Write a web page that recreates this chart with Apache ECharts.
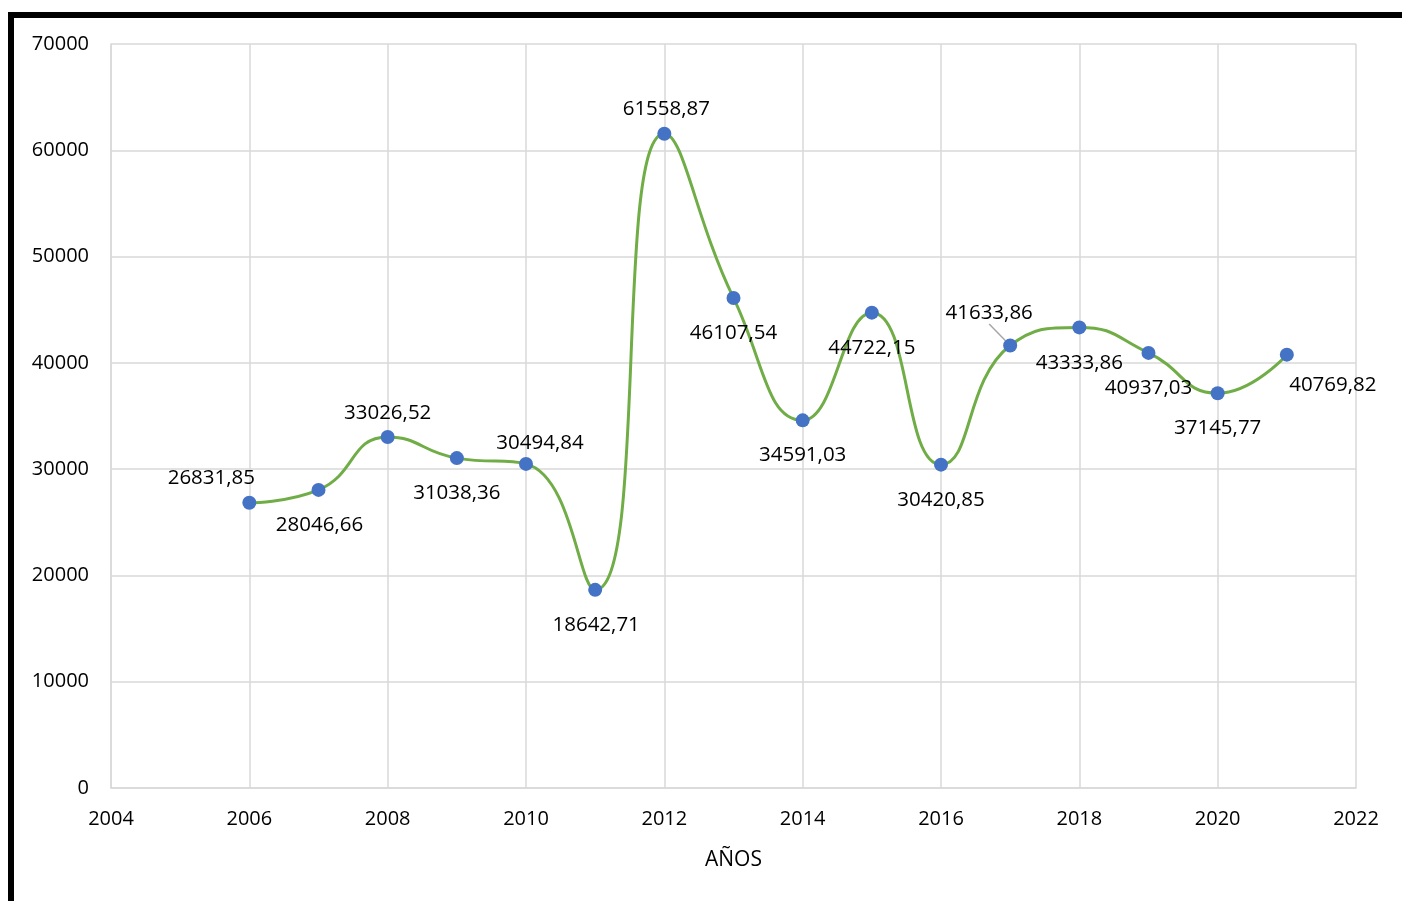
<!DOCTYPE html>
<html>
<head>
<meta charset="utf-8">
<script src="https://cdn.jsdelivr.net/npm/echarts@6/dist/echarts.min.js"></script>
<style>
html,body{margin:0;padding:0;background:#fff;}
#chart{width:1402px;height:901px;}
</style>
</head>
<body>
<div id="chart"></div>
<script>
const years = [2006,2007,2008,2009,2010,2011,2012,2013,2014,2015,2016,2017,2018,2019,2020,2021];
const values = [26831.85,28046.66,33026.52,31038.36,30494.84,18642.71,61558.87,46107.54,34591.03,44722.15,30420.85,41633.86,43333.86,40937.03,37145.77,40769.82];
const xAxisName = 'AÑOS';

// label displacement relative to each marker (px)
const labelShift = [[-38,-25],[1,35],[0,-24],[0,35],[14,-21],[1,35],[2,-25],[0,35],[0,35],[0,35],[0,35],[-21,-32],[0,36],[0,35],[0,35],[46,30]];

const fmt = v => v.toFixed(2).replace('.', ',');
const FONT = 'Open Sans';

const chart = echarts.init(document.getElementById('chart'), null, {renderer:'canvas'});
chart.setOption({
  animation:false,
  backgroundColor:'#fff',
  grid:{left:111,right:46,top:44,bottom:113,containLabel:false},
  graphic:[
    {type:'rect',shape:{x:8,y:12,width:1394,height:6},style:{fill:'#000'},z:100},
    {type:'rect',shape:{x:8,y:12,width:6,height:889},style:{fill:'#000'},z:100}
  ],
  xAxis:{
    type:'value',min:2004,max:2022,interval:2,
    name:xAxisName,nameLocation:'middle',nameGap:62,
    nameTextStyle:{fontFamily:FONT,fontSize:21,color:'#000'},
    axisLine:{show:true,lineStyle:{color:'#d9d9d9',width:1.5}},
    axisTick:{show:false},
    splitLine:{show:true,lineStyle:{color:'#d9d9d9',width:1.5}},
    axisLabel:{fontFamily:FONT,fontSize:20,color:'#000',margin:21,formatter:v=>String(v)}
  },
  yAxis:{
    type:'value',min:0,max:70000,interval:10000,
    axisLine:{show:true,lineStyle:{color:'#d9d9d9',width:1.5}},
    axisTick:{show:false},
    splitLine:{show:true,lineStyle:{color:'#d9d9d9',width:1.5}},
    axisLabel:{fontFamily:FONT,fontSize:20,color:'#000',margin:22,formatter:v=>String(v)}
  },
  series:[{
    type:'line',
    smooth:0.5,
    data:years.map((y,i)=>({value:[y,values[i]],labelLine:{show:i===11}})),
    lineStyle:{color:'#70AD47',width:3},
    itemStyle:{color:'#4472C4'},
    symbol:'circle',symbolSize:14,
    label:{
      show:true,position:'inside',
      formatter:p=>fmt(p.value[1]),
      fontFamily:FONT,fontSize:20.5,color:'#000'
    },
    labelLine:{show:false,lineStyle:{color:'#a6a6a6',width:1.5}},
    labelLayout:p=>({dx:labelShift[p.dataIndex][0],dy:labelShift[p.dataIndex][1]})
  }]
});
</script>
</body>
</html>
